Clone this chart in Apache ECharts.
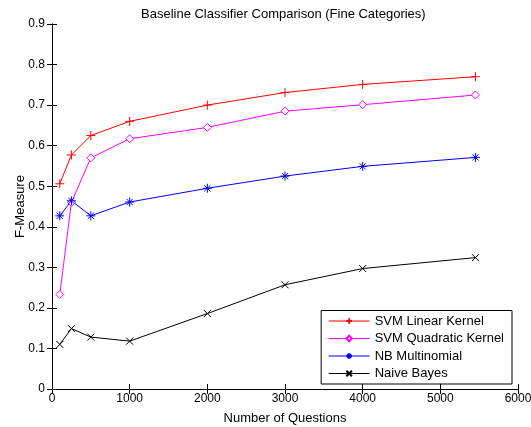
<!DOCTYPE html>
<html>
<head>
<meta charset="utf-8">
<script src="https://cdn.jsdelivr.net/npm/echarts@6/dist/echarts.min.js"></script>
<style>html,body{margin:0;padding:0;background:#fff}#c{width:531px;height:427px}</style>
</head>
<body>
<div id="c"></div>
<script>
const xValues = [100, 250, 500, 1000, 2000, 3000, 4000, 5452];
const svmLinear = [0.506, 0.577, 0.625, 0.660, 0.700, 0.731, 0.751, 0.770];
const svmQuadratic = [0.233, 0.460, 0.570, 0.617, 0.645, 0.685, 0.701, 0.725];
const nbMultinomial = [0.427, 0.464, 0.427, 0.461, 0.495, 0.525, 0.549, 0.571];
const naiveBayes = [0.110, 0.149, 0.128, 0.118, 0.186, 0.257, 0.297, 0.324];
const seriesNames = ['SVM Linear Kernel', 'SVM Quadratic Kernel', 'NB Multinomial', 'Naive Bayes'];

const FONT = 'Liberation Sans, Arial, sans-serif';
const plusSym = 'path://M5,0L5,10M0,5L10,5';
const starSym = 'path://M5,0L5,10M0,5L10,5M1.6,1.6L8.4,8.4M8.4,1.6L1.6,8.4';
const crossSym = 'path://M0,0L10,10M10,0L0,10';

function pairs(ys){ return xValues.map((x,i)=>[x, ys[i]]); }
function mk(name, ys, color, symbol, size, fill){
  return {
    name, type:'line', data: pairs(ys), symbol, symbolSize: size,
    lineStyle:{color, width:1},
    itemStyle:{color: fill, borderColor: color, borderWidth: 1},
    emphasis:{disabled:true}, animation:false, z: 3
  };
}
const chart = echarts.init(document.getElementById('c'), null, {renderer:'canvas'});
const axisLbl = {color:'#000', fontFamily: FONT, fontSize: 12};
const line = {show:true, lineStyle:{color:'#000', width:1}};
const tick = {show:true, inside:true, length:5, lineStyle:{color:'#000'}};
chart.setOption({
  animation:false,
  backgroundColor:'#fff',
  title:{text:'Baseline Classifier Comparison (Fine Categories)', left:136, top:3,
    textStyle:{fontFamily:FONT, fontSize:13, fontWeight:'normal', color:'#000'}},
  grid:{left:52, right:13, top:24, bottom:38, outerBoundsMode:'none', containLabel:false},
  xAxis:[{type:'value', min:0, max:6000, interval:1000, position:'bottom',
    name:'Number of Questions', nameLocation:'middle', nameGap:23, nameMoveOverlap:false,
    nameTextStyle:{fontFamily:FONT, fontSize:13, color:'#000'},
    axisLine:line, axisTick:tick,
    axisLabel:Object.assign({margin:4, formatter:v=>String(v)}, axisLbl), splitLine:{show:false}},
    {type:'value', min:0, max:6000, interval:1000, position:'top',
    axisLine:line, axisTick:tick, axisLabel:{show:false}, splitLine:{show:false}}],
  yAxis:[{type:'value', min:0, max:0.9, interval:0.1, position:'left',
    name:'F-Measure', nameLocation:'middle', nameGap:25, nameMoveOverlap:false,
    nameTextStyle:{fontFamily:FONT, fontSize:13, color:'#000'},
    axisLine:line, axisTick:tick,
    axisLabel:Object.assign({margin:7, formatter:v=>v===0?'0':v.toFixed(1)}, axisLbl), splitLine:{show:false}},
    {type:'value', min:0, max:0.9, interval:0.1, position:'right',
    axisLine:line, axisTick:tick, axisLabel:{show:false}, splitLine:{show:false}}],
  legend:{
    data:seriesNames, orient:'vertical', right:19, bottom:43,
    backgroundColor:'#fff', borderColor:'#000', borderWidth:1, borderRadius:0,
    padding:[4,8,4,7], itemGap:4.5, itemWidth:41, itemHeight:7,
    lineStyle:{width:1},
    textStyle:{fontFamily:FONT, fontSize:13, color:'#000', padding:[0,0,0,0]}
  },
  series:[
    mk(seriesNames[0], svmLinear, '#ff0000', plusSym, 9, 'transparent'),
    mk(seriesNames[1], svmQuadratic, '#ff00ff', 'diamond', 8, '#ffffff'),
    mk(seriesNames[2], nbMultinomial, '#0000ff', starSym, 9, '#0000ff'),
    mk(seriesNames[3], naiveBayes, '#000000', crossSym, 7, 'transparent')
  ]
});
</script>
</body>
</html>
